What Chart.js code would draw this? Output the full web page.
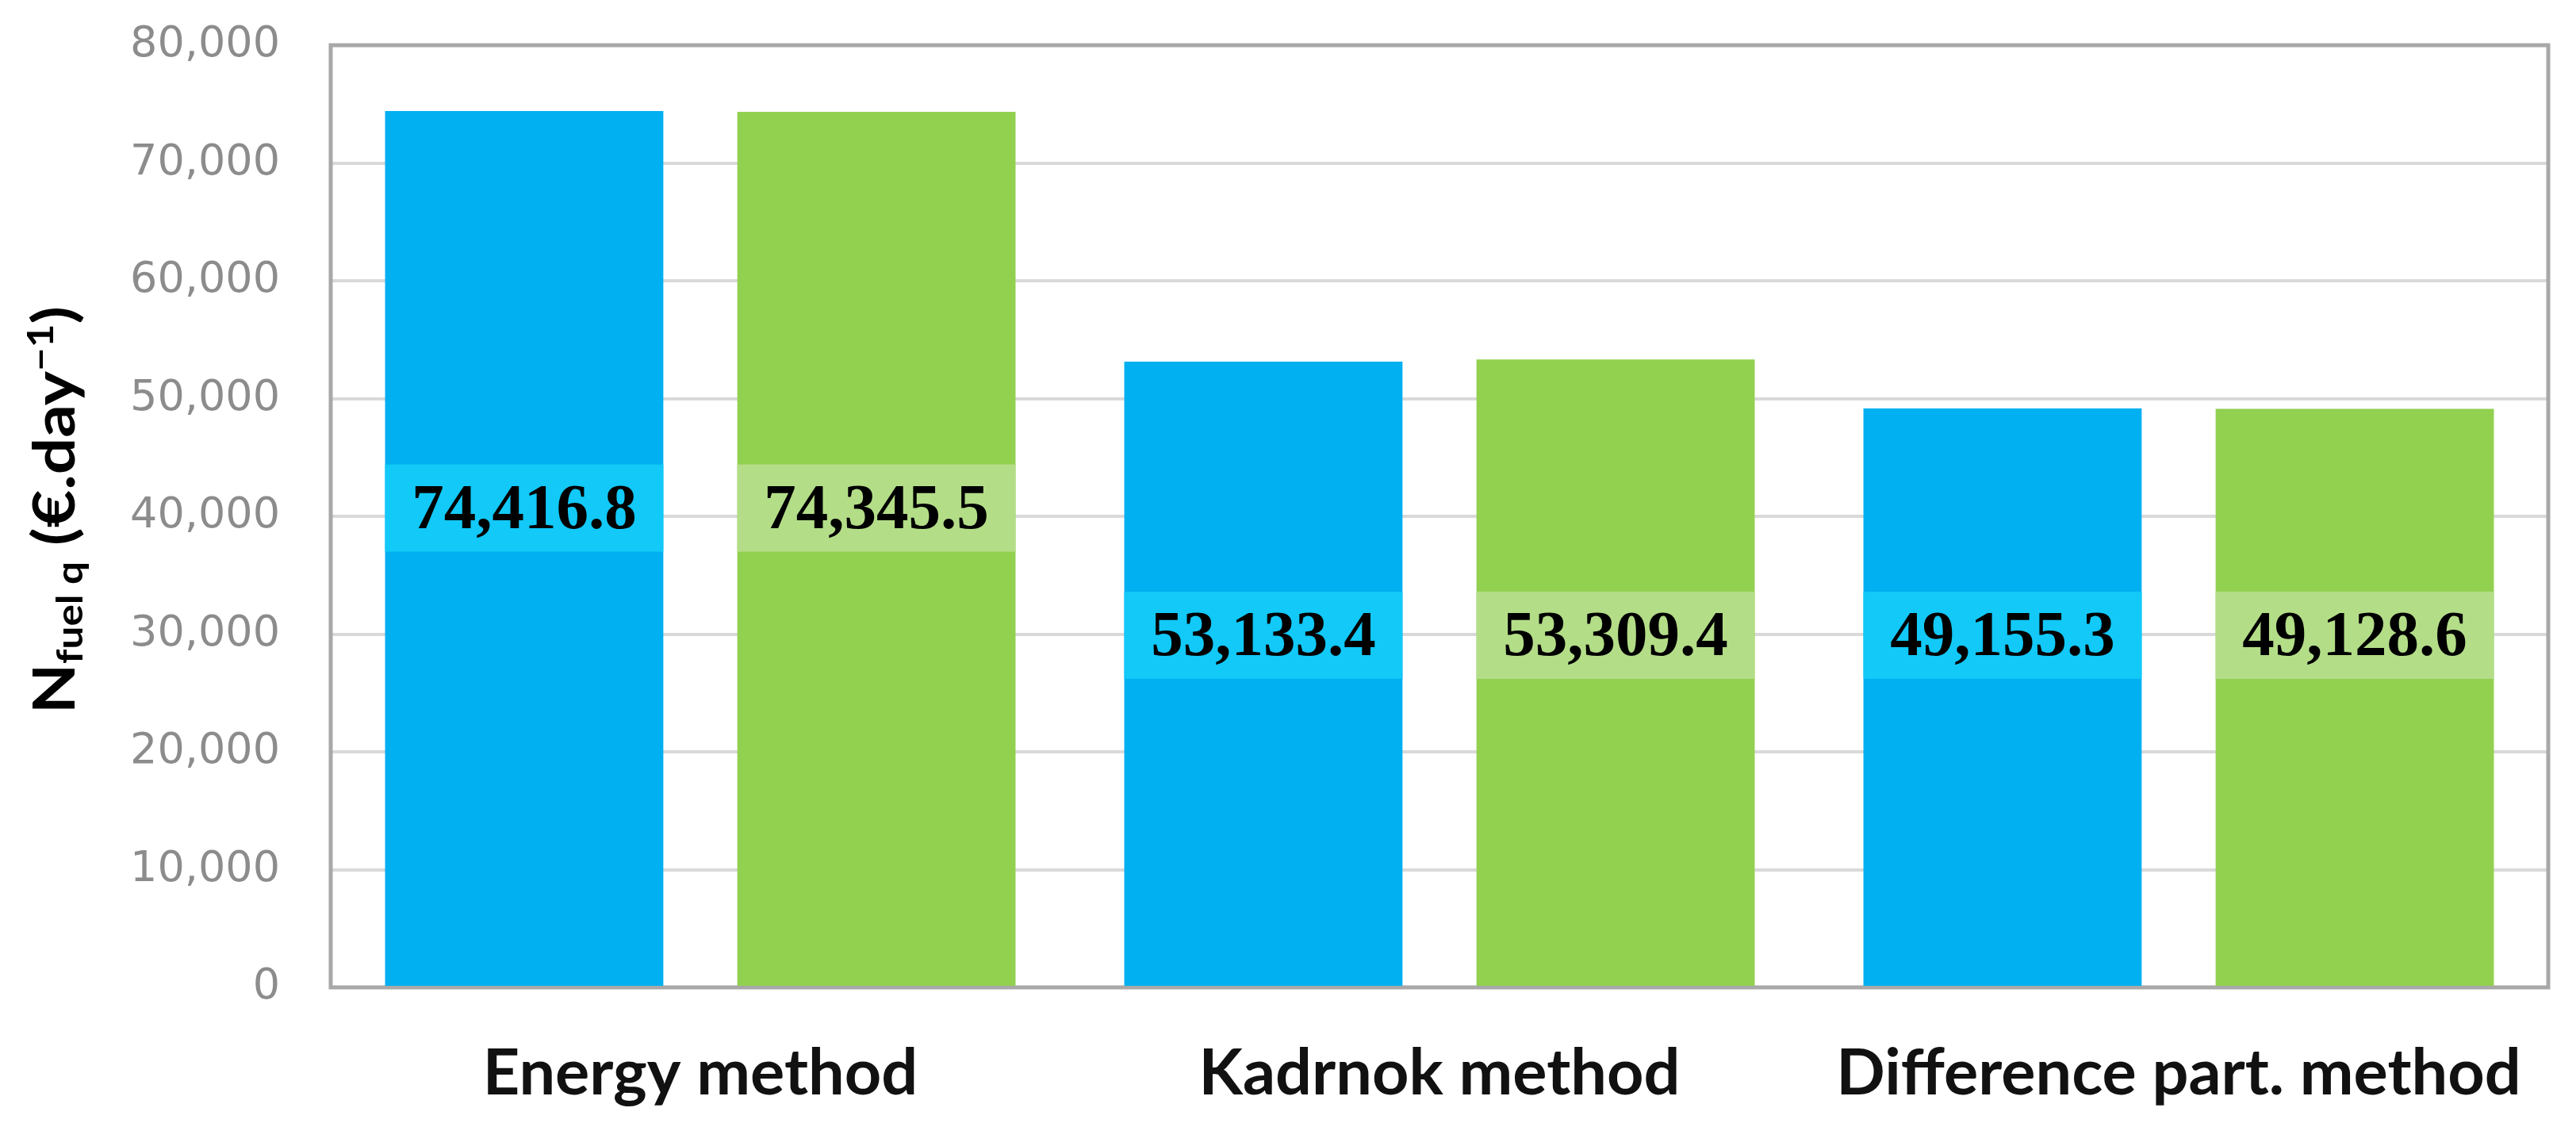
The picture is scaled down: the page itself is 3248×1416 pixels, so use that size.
<!DOCTYPE html>
<html lang="en">

<head>
    <meta charset="UTF-8">
    <title>Fuel cost by method</title>
    <script src="https://cdn.jsdelivr.net/npm/chart.js"></script>
    <style>
        body { margin: 0; background: #ffffff; }
        #wrap { width: 3248px; height: 1416px; }
    </style>

    <script>
        // chart data
        const methods = ['Energy method', 'Kadrnok method', 'Difference part. method'];
        const blueValues = [74416.8, 53133.4, 49155.3];
        const greenValues = [74345.5, 53309.4, 49128.6];
        const yTicks = [0, 10000, 20000, 30000, 40000, 50000, 60000, 70000, 80000];

        // y axis title pieces: main, subscript, main, superscript, main
        const yTitleParts = ['N', 'fuel q', ' (€.day', '−1', ')'];

        let chart;

        function fmt(v) {
            return v.toLocaleString('en-US', { minimumFractionDigits: 1, maximumFractionDigits: 1 });
        }

        // grey box round the plot area, drawn under the bars
        const frame = {
            id: 'frame',
            beforeDatasetsDraw(c) {
                const a = c.chartArea;
                const ctx = c.ctx;
                ctx.save();
                ctx.strokeStyle = '#A8A8A8';
                ctx.lineWidth = 5;
                ctx.strokeRect(a.left, a.top, a.right - a.left, a.bottom - a.top);
                ctx.restore();
            }
        };

        // value boxes inside the bars
        const valueBoxes = {
            id: 'valueBoxes',
            afterDatasetsDraw(c, args, opts) {
                const ctx = c.ctx;
                const y = c.scales.y;
                ctx.save();
                c.data.datasets.forEach(function (ds, i) {
                    const meta = c.getDatasetMeta(i);
                    meta.data.forEach(function (bar, j) {
                        const cy = y.getPixelForValue(opts.centers[j]);
                        ctx.fillStyle = opts.fills[i];
                        ctx.fillRect(bar.x - bar.width / 2, cy - opts.boxHeight / 2, bar.width, opts.boxHeight);
                        ctx.fillStyle = '#000000';
                        ctx.font = 'bold 81px "Liberation Serif"';
                        ctx.textAlign = 'center';
                        ctx.textBaseline = 'middle';
                        ctx.fillText(fmt(ds.data[j]), bar.x, cy + 4);
                    });
                });
                ctx.restore();
            }
        };

        // rotated y title with subscript and superscript
        const yTitle = {
            id: 'yTitle',
            afterDraw(c) {
                const ctx = c.ctx;
                const size = 72;
                const stretch = 1.14;
                const scales = [1, 0.62, 1, 0.62, 1];
                const shifts = [0, 0.14, 0, -0.38, 0];
                ctx.save();
                let total = 0;
                const widths = yTitleParts.map(function (t, i) {
                    ctx.font = 'bold ' + Math.round(size * scales[i]) + 'px Lato';
                    const w = ctx.measureText(t).width;
                    total += w;
                    return w;
                });
                ctx.translate(94, 643);
                ctx.rotate(-Math.PI / 2);
                ctx.scale(stretch, 1);
                ctx.fillStyle = '#000000';
                ctx.textBaseline = 'alphabetic';
                ctx.textAlign = 'left';
                let x = -total / 2;
                yTitleParts.forEach(function (t, i) {
                    ctx.font = 'bold ' + Math.round(size * scales[i]) + 'px Lato';
                    ctx.fillText(t, x, shifts[i] * size);
                    x += widths[i];
                });
                ctx.restore();
            }
        };

        function init() {
            const ctx = document.getElementById('costChart');

            chart = new Chart(ctx, {
                type: 'bar',
                data: {
                    labels: methods,
                    datasets: [
                        {
                            label: 'blue',
                            data: blueValues,
                            backgroundColor: '#00B0F0',
                            categoryPercentage: 0.953,
                            barPercentage: 0.79
                        },
                        {
                            label: 'green',
                            data: greenValues,
                            backgroundColor: '#92D050',
                            categoryPercentage: 0.953,
                            barPercentage: 0.79
                        }
                    ]
                },
                options: {
                    responsive: true,
                    maintainAspectRatio: false,
                    devicePixelRatio: 1,
                    animation: false,
                    layout: {
                        padding: { left: 0, top: 57, right: 35, bottom: 0 }
                    },
                    plugins: {
                        legend: { display: false },
                        tooltip: { enabled: false },
                        valueBoxes: {
                            centers: [40700, 29900, 29900],
                            fills: ['#12C9F8', '#B4DD88'],
                            boxHeight: 110
                        }
                    },
                    scales: {
                        x: {
                            grid: { display: false },
                            border: { display: false },
                            ticks: {
                                color: '#111111',
                                padding: 52,
                                font: { family: 'Lato', size: 81, weight: 'bold' }
                            },
                            afterFit: function (axis) { axis.height = 171; }
                        },
                        y: {
                            min: 0,
                            max: 80000,
                            border: { display: false },
                            grid: {
                                color: '#D9D9D9',
                                lineWidth: 4,
                                drawTicks: false
                            },
                            afterBuildTicks: function (axis) {
                                axis.ticks = yTicks.map(function (v) { return { value: v }; });
                            },
                            ticks: {
                                color: '#8C8C8C',
                                padding: 64,
                                font: { family: 'DejaVu Sans', size: 54 },
                                callback: function (v) { return v.toLocaleString('en-US'); }
                            },
                            afterFit: function (axis) {
                                axis.width = 417;
                                axis.paddingTop = 0;
                                axis.paddingBottom = 0;
                            }
                        }
                    }
                },
                plugins: [frame, valueBoxes, yTitle]
            });
        }

        document.addEventListener('DOMContentLoaded', init);
    </script>
</head>

<body>
    <div id="wrap">
        <canvas id="costChart"></canvas>
    </div>
</body>

</html>
